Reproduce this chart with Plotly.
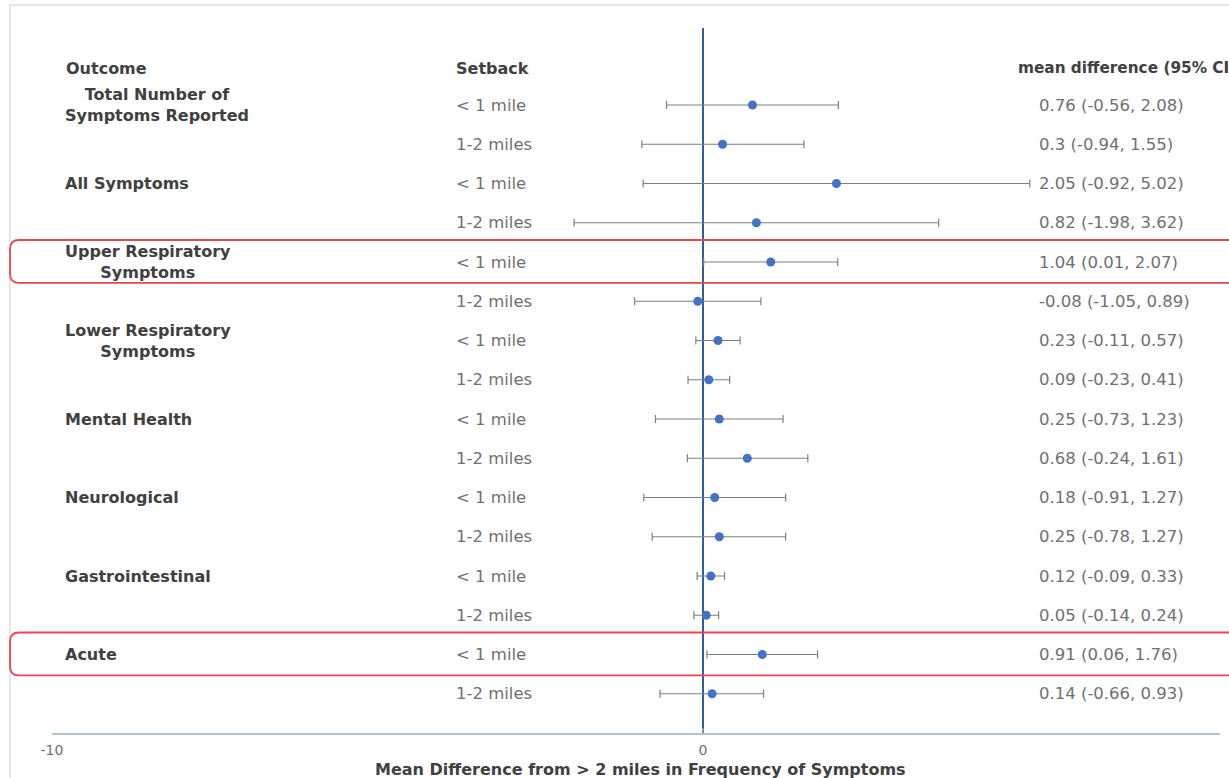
import plotly.graph_objects as go

# Forest plot: mean difference in symptom frequency vs. > 2 miles, by setback distance
outcomes = [
    "Total Number of<br>Symptoms Reported",
    "All Symptoms",
    "Upper Respiratory<br>Symptoms",
    "Lower Respiratory<br>Symptoms",
    "Mental Health",
    "Neurological",
    "Gastrointestinal",
    "Acute",
]
setbacks = ["< 1 mile", "1-2 miles"]

mean_diff = [0.76, 0.3, 2.05, 0.82, 1.04, -0.08, 0.23, 0.09,
             0.25, 0.68, 0.18, 0.25, 0.12, 0.05, 0.91, 0.14]
ci_low = [-0.56, -0.94, -0.92, -1.98, 0.01, -1.05, -0.11, -0.23,
          -0.73, -0.24, -0.91, -0.78, -0.09, -0.14, 0.06, -0.66]
ci_high = [2.08, 1.55, 5.02, 3.62, 2.07, 0.89, 0.57, 0.41,
           1.23, 1.61, 1.27, 1.27, 0.33, 0.24, 1.76, 0.93]

x_ticks = [-10, 0]
x_tick_labels = ["-10", "0"]

W, H = 1229, 778
FONT = "'DejaVu Sans', Verdana, sans-serif"
DARK = "#404040"
GREY = "#707070"


def px_x(p):
    return p / W


def px_y(p):
    return 1 - p / H


rows = list(range(len(mean_diff)))
setback_col = [setbacks[i % 2] for i in rows]

fig = go.Figure()

fig.add_trace(go.Scatter(
    x=mean_diff,
    y=rows,
    mode="markers",
    marker=dict(color="#4472C4", size=9),
    error_x=dict(
        type="data",
        symmetric=False,
        array=[h - m for h, m in zip(ci_high, mean_diff)],
        arrayminus=[m - l for m, l in zip(mean_diff, ci_low)],
        color="#7f7f7f",
        thickness=1.2,
        width=4,
    ),
    hoverinfo="skip",
    showlegend=False,
))

annotations = []

# column headers
header_row = -0.94
for text, xp, fs in [("Outcome", 64, 16), ("Setback", 454, 16),
                     ("mean difference (95% CI)", 1016, 15.3)]:
    annotations.append(dict(
        x=px_x(xp), xref="paper", y=header_row, yref="y",
        text=f"<b>{text}</b>", showarrow=False, xanchor="left", yanchor="middle",
        font=dict(family=FONT, size=fs, color=DARK),
    ))

# outcome names (one per pair of rows)
for k, name in enumerate(outcomes):
    annotations.append(dict(
        x=px_x(63), xref="paper", y=2 * k, yref="y",
        text=f"<b>{name}</b>", showarrow=False, xanchor="left", yanchor="middle",
        align="center",
        font=dict(family=FONT, size=16, color=DARK),
    ))

# setback labels and mean difference (95% CI) text
for i in rows:
    annotations.append(dict(
        x=px_x(454), xref="paper", y=i, yref="y",
        text=setback_col[i], showarrow=False, xanchor="left", yanchor="middle",
        font=dict(family=FONT, size=16.5, color=GREY),
    ))
    annotations.append(dict(
        x=px_x(1037), xref="paper", y=i, yref="y",
        text=f"{mean_diff[i]:g} ({ci_low[i]:g}, {ci_high[i]:g})",
        showarrow=False, xanchor="left", yanchor="middle",
        font=dict(family=FONT, size=16.5, color=GREY),
    ))

# x-axis title
annotations.append(dict(
    x=px_x(640), xref="paper", y=px_y(769), yref="paper",
    text="<b>Mean Difference from > 2 miles in Frequency of Symptoms</b>",
    showarrow=False, xanchor="center", yanchor="middle",
    font=dict(family=FONT, size=16, color=DARK),
))

shapes = []

# light outer frame
shapes.append(dict(
    type="rect", xref="paper", yref="paper",
    x0=px_x(10), x1=px_x(W + 20), y0=px_y(5), y1=px_y(H + 20),
    line=dict(color="#e6e6e6", width=2), fillcolor="rgba(0,0,0,0)", layer="below",
))

# red rounded highlight around rows whose CI excludes zero
rx = px_x(9)
ry = 0.22
x_left = px_x(10)
x_right = px_x(W + 30)
for i in rows:
    if ci_low[i] > 0:
        top = i - 0.56
        bot = i + 0.53
        path = (
            f"M {x_right},{top} L {x_left + rx},{top} "
            f"Q {x_left},{top} {x_left},{top + ry} "
            f"L {x_left},{bot - ry} "
            f"Q {x_left},{bot} {x_left + rx},{bot} "
            f"L {x_right},{bot}"
        )
        shapes.append(dict(
            type="path", xref="paper", yref="y", path=path,
            line=dict(color="#e8474f", width=1.8),
        ))

fig.update_layout(
    width=W, height=H,
    margin=dict(l=0, r=0, t=0, b=0, pad=0, autoexpand=False),
    paper_bgcolor="white",
    plot_bgcolor="white",
    font=dict(family=FONT),
    showlegend=False,
    xaxis=dict(
        domain=[px_x(52), px_x(1220)],
        range=[-10, (1220 - 703) / 65.1],
        tickvals=x_ticks,
        ticktext=x_tick_labels,
        ticks="inside",
        ticklen=5,
        tickcolor="#8a8a8a",
        tickwidth=1.5,
        ticklabelstandoff=3,
        tickfont=dict(family=FONT, size=14, color=GREY),
        showline=True,
        linecolor="#b4c3d2",
        linewidth=2,
        showgrid=False,
        zeroline=True,
        zerolinecolor="#2f5d9e",
        zerolinewidth=2,
        automargin=False,
        fixedrange=True,
    ),
    yaxis=dict(
        domain=[px_y(733), px_y(28)],
        range=[(733 - 105) / 39.25, -(105 - 28) / 39.25],
        visible=False,
        automargin=False,
        fixedrange=True,
    ),
    annotations=annotations,
    shapes=shapes,
)

fig.write_html("out.html")
